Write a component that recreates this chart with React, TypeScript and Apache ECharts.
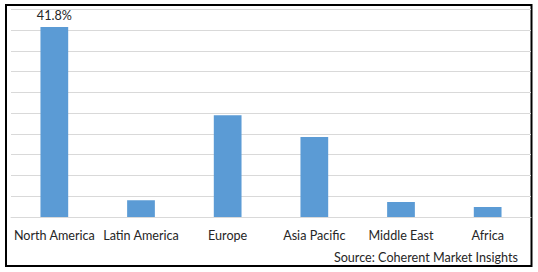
import React, { useEffect, useRef } from "react";
import * as echarts from "echarts";

const categories = ["North America", "Latin America", "Europe", "Asia Pacific", "Middle East", "Africa"];
const values = [41.8, 3.7, 22.4, 17.6, 3.3, 2.2];
const barLabels = ["41.8%", "", "", "", "", ""];
const sourceText = "Source: Coherent Market Insights";

export default function App() {
  const ref = useRef<HTMLDivElement>(null);
  useEffect(() => {
    document.body.style.margin = "0";
    const chart = echarts.init(ref.current!, undefined, { renderer: "svg" });
    const font = "Lato, 'Open Sans', sans-serif";
    chart.setOption({
      animation: false,
      grid: { left: 11, right: 7, top: 9.3, bottom: 55, containLabel: false },
      xAxis: {
        type: "category",
        data: categories,
        axisLine: { show: true, lineStyle: { color: "#d9d9d9", width: 1 } },
        axisTick: { show: false },
        axisLabel: { interval: 0, color: "#262626", fontSize: 12.6, fontFamily: font, margin: 12 },
      },
      yAxis: {
        type: "value",
        min: 0,
        max: 45.7,
        interval: 4.57,
        axisLine: { show: false },
        axisTick: { show: false },
        axisLabel: { show: false },
        splitLine: { lineStyle: { color: "#d9d9d9", width: 1 } },
      },
      series: [
        {
          type: "bar",
          data: values,
          barWidth: "32%",
          itemStyle: { color: "#5b9bd5" },
          label: {
            show: true,
            position: "top",
            distance: 5,
            color: "#262626",
            fontSize: 12.6,
            fontFamily: font,
            formatter: (p: any) => barLabels[p.dataIndex],
          },
        },
      ],
      graphic: [
        {
          type: "rect",
          shape: { x: 6, y: 5, width: 525.5, height: 261 },
          style: { fill: "none", stroke: "#000", lineWidth: 2 },
          silent: true,
        },
        {
          type: "text",
          right: 20,
          top: 251,
          style: { text: sourceText, fill: "#262626", fontSize: 12.6, fontFamily: font },
        },
      ],
    });
    return () => chart.dispose();
  }, []);
  return <div ref={ref} style={{ width: 538, height: 272 }} />;
}
